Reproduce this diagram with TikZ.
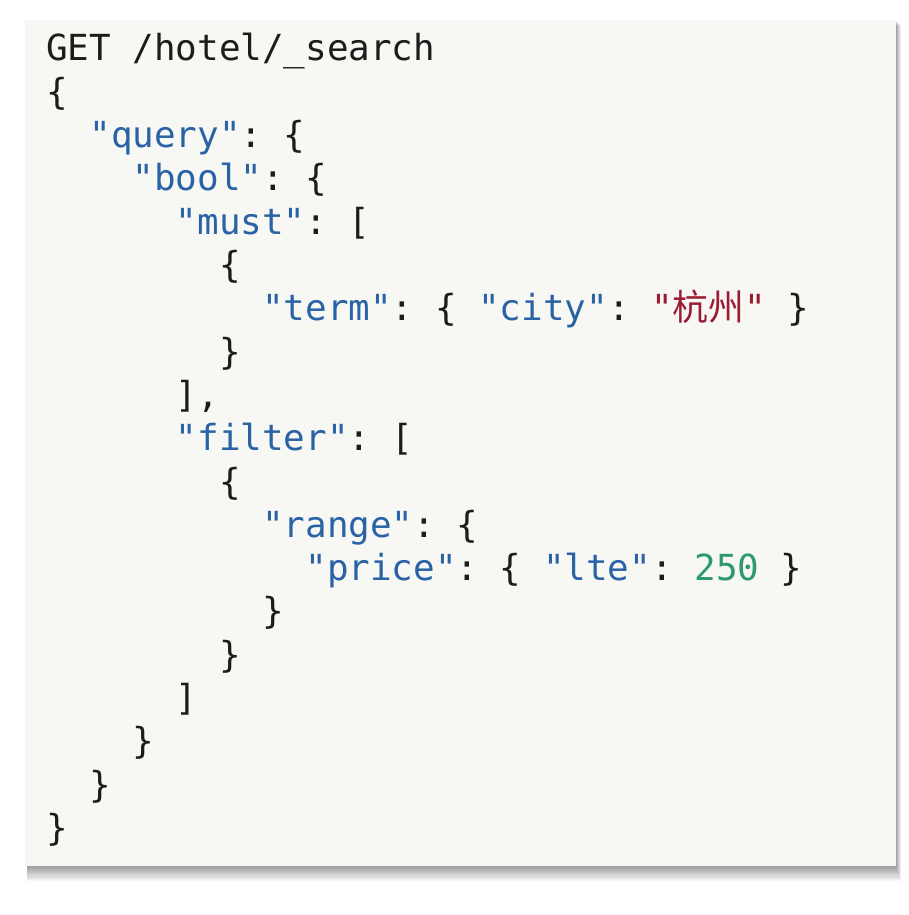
\documentclass[tikz,border=0pt]{standalone}
\usepackage{fontspec}
\setmonofont{DejaVu Sans Mono}
\newfontfamily\cjk{Noto Sans CJK SC}
\definecolor{keyblue}{HTML}{2A62A6}
\definecolor{strred}{HTML}{9C1B33}
\definecolor{numgreen}{HTML}{2E9A6C}
\definecolor{codetext}{HTML}{1C1C1C}
\definecolor{panelbg}{HTML}{F7F8F4}
\begin{document}
\begin{tikzpicture}[x=1pt,y=-1pt,
  code/.style={anchor=base west, inner sep=0pt, font=\ttfamily\fontsize{35.9}{43}\selectfont, text=codetext},
  panelbox/.style={fill=panelbg, draw=none, anchor=north west, inner sep=0pt, minimum width=871pt, minimum height=846pt}]
\useasboundingbox (0,0) rectangle (909,915);
\fill[white] (0,0) rectangle (909,915);
% shadow
\foreach \k in {1,...,14}{
  \fill[black,opacity=0.03] (27,{20+\k*0.4}) rectangle ({896+\k*0.35},{866+\k*1.05});
}
\node[panelbox] (panel) at (25,20) {};
\def\cw{21.6}
\node[code] (l1)  at (46,61)      {GET /hotel/\_search};
\node[code] (l2)  at (46,104.3)   {\{};
\node[code] (l3)  at (89.2,147.6) {\textcolor{keyblue}{"query"}: \{};
\node[code] (l4)  at (132.4,190.9){\textcolor{keyblue}{"bool"}: \{};
\node[code] (l5)  at (175.6,234.2){\textcolor{keyblue}{"must"}: [};
\node[code] (l6)  at (218.8,277.5){\{};
\node[code] (l7)  at (262,320.8)  {\textcolor{keyblue}{"term"}: \{ \textcolor{keyblue}{"city"}: \textcolor{strred}{"{\cjk 杭州}"} \}};
\node[code] (l8)  at (218.8,364.1){\}};
\node[code] (l9)  at (175.6,407.4){],};
\node[code] (l10) at (175.6,450.7){\textcolor{keyblue}{"filter"}: [};
\node[code] (l11) at (218.8,494)  {\{};
\node[code] (l12) at (262,537.3)  {\textcolor{keyblue}{"range"}: \{};
\node[code] (l13) at (305.2,580.6){\textcolor{keyblue}{"price"}: \{ \textcolor{keyblue}{"lte"}: \textcolor{numgreen}{250} \}};
\node[code] (l14) at (262,623.9)  {\}};
\node[code] (l15) at (218.8,667.2){\}};
\node[code] (l16) at (175.6,710.5){]};
\node[code] (l17) at (132.4,753.8){\}};
\node[code] (l18) at (89.2,797.1) {\}};
\node[code] (l19) at (46,840.4)   {\}};
\end{tikzpicture}
\end{document}
